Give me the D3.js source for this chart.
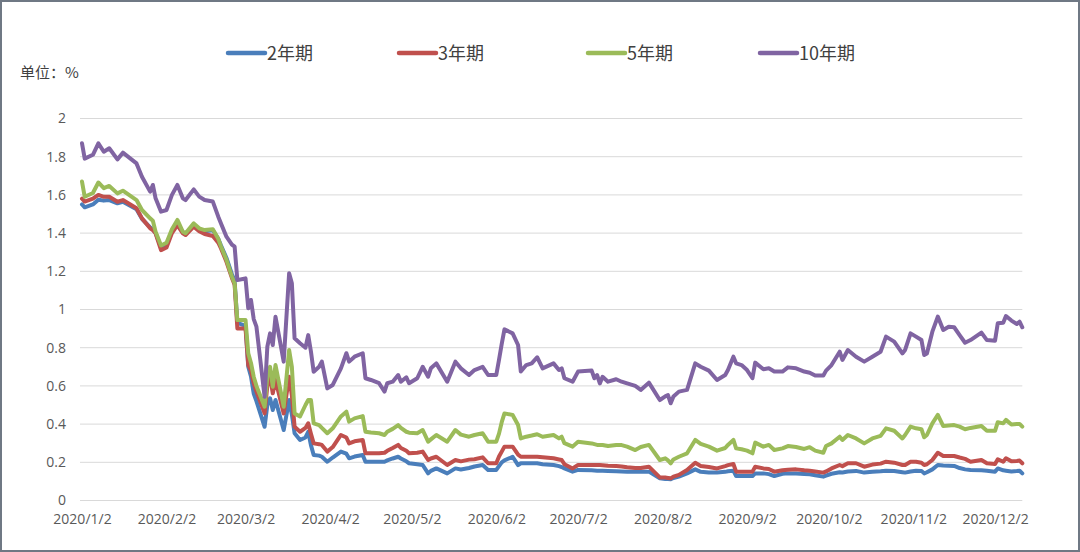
<!doctype html>
<html>
<head>
<meta charset="utf-8">
<title>国债收益率</title>
<script src="https://d3js.org/d3.v7.min.js"></script>
<style>
  body { margin: 0; background: #fff; }
  svg { display: block; }
</style>
</head>
<body>
<svg></svg>
<script>
// dates of the readings
var dates = [
  '2020-01-02','2020-01-03','2020-01-06','2020-01-08','2020-01-10','2020-01-12','2020-01-15','2020-01-17','2020-01-22','2020-01-24','2020-01-27','2020-01-28','2020-01-29','2020-01-31',
  '2020-02-02','2020-02-04','2020-02-06','2020-02-08','2020-02-09','2020-02-12','2020-02-14','2020-02-16','2020-02-19','2020-02-21','2020-02-22','2020-02-24','2020-02-26','2020-02-27','2020-02-28',
  '2020-03-01','2020-03-02','2020-03-03','2020-03-04','2020-03-05','2020-03-06','2020-03-09','2020-03-10','2020-03-11','2020-03-12','2020-03-13','2020-03-16','2020-03-18','2020-03-19','2020-03-20','2020-03-22','2020-03-24','2020-03-25','2020-03-26','2020-03-27','2020-03-29','2020-03-30',
  '2020-04-01','2020-04-03','2020-04-06','2020-04-08','2020-04-09','2020-04-11','2020-04-14','2020-04-15','2020-04-17','2020-04-20','2020-04-22','2020-04-23','2020-04-25','2020-04-27','2020-04-28','2020-04-30',
  '2020-05-01','2020-05-04','2020-05-06','2020-05-08','2020-05-09','2020-05-11','2020-05-15','2020-05-18','2020-05-20','2020-05-23','2020-05-25','2020-05-28','2020-05-30',
  '2020-06-02','2020-06-03','2020-06-04','2020-06-05','2020-06-08','2020-06-10','2020-06-11','2020-06-13','2020-06-15','2020-06-17','2020-06-19','2020-06-23','2020-06-25','2020-06-26','2020-06-27','2020-06-30',
  '2020-07-02','2020-07-07','2020-07-08','2020-07-09','2020-07-10','2020-07-11','2020-07-13','2020-07-16','2020-07-18','2020-07-20','2020-07-23','2020-07-25','2020-07-28',
  '2020-08-01','2020-08-03','2020-08-04','2020-08-05','2020-08-06','2020-08-08','2020-08-11','2020-08-14','2020-08-16','2020-08-19','2020-08-22','2020-08-25','2020-08-26','2020-08-28','2020-08-29','2020-08-31',
  '2020-09-02','2020-09-04','2020-09-05','2020-09-08','2020-09-10','2020-09-12','2020-09-15','2020-09-17','2020-09-20','2020-09-23','2020-09-25','2020-09-27','2020-09-30',
  '2020-10-01','2020-10-03','2020-10-06','2020-10-07','2020-10-09','2020-10-12','2020-10-15','2020-10-18','2020-10-21','2020-10-23','2020-10-26','2020-10-29','2020-10-30',
  '2020-11-01','2020-11-03','2020-11-05','2020-11-06','2020-11-07','2020-11-09','2020-11-11','2020-11-13','2020-11-15','2020-11-17','2020-11-19','2020-11-21','2020-11-23','2020-11-27','2020-11-29',
  '2020-12-02','2020-12-03','2020-12-05','2020-12-06','2020-12-08','2020-12-10','2020-12-11','2020-12-12'
];

var y2 = [
  1.55,1.535,1.55,1.575,1.57,1.573,1.556,1.564,1.525,1.475,1.43,1.42,1.40,1.325,
  1.335,1.41,1.45,1.405,1.395,1.442,1.42,1.41,1.415,1.37,1.335,1.27,1.185,1.15,0.93,
  0.92,0.915,0.70,0.65,0.56,0.52,0.386,0.50,0.535,0.474,0.526,0.369,0.526,0.45,0.352,0.317,0.33,0.36,0.29,0.238,0.235,0.229,
  0.203,0.225,0.256,0.245,0.221,0.23,0.238,0.203,0.203,0.203,0.203,0.21,0.22,0.229,0.22,0.205,
  0.195,0.19,0.186,0.142,0.155,0.168,0.142,0.168,0.162,0.17,0.178,0.186,0.16,
  0.16,0.18,0.20,0.21,0.229,0.185,0.195,0.195,0.195,0.195,0.19,0.186,0.18,0.175,0.168,0.151,
  0.16,0.158,0.157,0.156,0.156,0.156,0.155,0.153,0.152,0.151,0.151,0.151,0.151,
  0.116,0.113,0.112,0.111,0.118,0.125,0.142,0.163,0.15,0.146,0.146,0.15,0.153,0.156,0.128,0.128,
  0.128,0.128,0.142,0.142,0.138,0.128,0.14,0.142,0.141,0.139,0.137,0.132,0.125,
  0.13,0.14,0.148,0.147,0.152,0.155,0.146,0.15,0.153,0.156,0.154,0.148,0.146,
  0.152,0.156,0.155,0.142,0.148,0.163,0.186,0.183,0.182,0.181,0.17,0.163,0.16,0.158,0.156,
  0.151,0.168,0.158,0.156,0.152,0.154,0.156,0.142
];

var y3 = [
  1.58,1.565,1.58,1.60,1.59,1.59,1.564,1.573,1.53,1.477,1.425,1.415,1.399,1.311,
  1.325,1.40,1.442,1.399,1.39,1.434,1.41,1.395,1.385,1.35,1.32,1.25,1.165,1.13,0.901,
  0.90,0.90,0.709,0.68,0.614,0.57,0.456,0.60,0.648,0.561,0.631,0.456,0.648,0.55,0.386,0.36,0.38,0.404,0.35,0.299,0.295,0.291,
  0.256,0.28,0.343,0.33,0.299,0.31,0.317,0.247,0.247,0.247,0.25,0.26,0.275,0.291,0.275,0.26,
  0.247,0.25,0.256,0.212,0.22,0.229,0.186,0.212,0.205,0.214,0.216,0.226,0.195,
  0.195,0.23,0.256,0.282,0.282,0.24,0.229,0.229,0.229,0.229,0.226,0.221,0.215,0.212,0.19,0.168,
  0.186,0.186,0.186,0.186,0.186,0.185,0.182,0.18,0.178,0.174,0.17,0.17,0.177,
  0.121,0.12,0.118,0.116,0.125,0.134,0.16,0.198,0.181,0.175,0.168,0.18,0.185,0.191,0.151,0.151,
  0.151,0.151,0.177,0.168,0.165,0.151,0.158,0.161,0.163,0.158,0.156,0.152,0.146,
  0.152,0.168,0.186,0.18,0.195,0.195,0.177,0.188,0.193,0.203,0.198,0.186,0.186,
  0.203,0.203,0.198,0.186,0.19,0.212,0.25,0.233,0.233,0.233,0.225,0.218,0.203,0.212,0.195,
  0.191,0.216,0.203,0.221,0.205,0.207,0.209,0.195
];

var y5 = [
  1.67,1.59,1.61,1.665,1.635,1.647,1.608,1.622,1.573,1.521,1.477,1.465,1.407,1.335,
  1.35,1.42,1.469,1.407,1.399,1.451,1.425,1.416,1.42,1.37,1.33,1.26,1.172,1.137,0.945,
  0.945,0.945,0.771,0.72,0.648,0.60,0.491,0.65,0.70,0.596,0.709,0.491,0.788,0.70,0.456,0.44,0.50,0.526,0.526,0.404,0.395,0.38,
  0.352,0.378,0.44,0.465,0.413,0.43,0.442,0.36,0.356,0.352,0.343,0.36,0.375,0.395,0.38,0.36,
  0.355,0.352,0.369,0.308,0.32,0.343,0.308,0.369,0.345,0.334,0.343,0.352,0.308,
  0.308,0.35,0.41,0.456,0.448,0.395,0.325,0.334,0.34,0.347,0.334,0.343,0.325,0.334,0.30,0.282,
  0.308,0.299,0.295,0.291,0.291,0.291,0.285,0.29,0.29,0.282,0.264,0.28,0.291,
  0.212,0.221,0.21,0.195,0.215,0.229,0.247,0.317,0.296,0.282,0.261,0.275,0.291,0.317,0.273,0.268,
  0.261,0.247,0.303,0.282,0.291,0.264,0.273,0.285,0.28,0.27,0.279,0.261,0.25,
  0.285,0.299,0.334,0.317,0.343,0.325,0.299,0.325,0.338,0.378,0.365,0.325,0.343,
  0.387,0.378,0.373,0.331,0.343,0.404,0.448,0.39,0.393,0.395,0.387,0.373,0.38,0.39,0.365,
  0.365,0.41,0.404,0.422,0.398,0.40,0.401,0.387
];

var y10 = [
  1.87,1.79,1.81,1.87,1.826,1.844,1.786,1.821,1.765,1.695,1.617,1.652,1.582,1.512,
  1.521,1.60,1.652,1.582,1.573,1.629,1.591,1.573,1.565,1.486,1.45,1.381,1.34,1.329,1.154,
  1.16,1.163,1.006,1.05,0.95,0.91,0.543,0.805,0.875,0.814,0.962,0.727,1.19,1.137,0.849,0.823,0.80,0.866,0.78,0.674,0.70,0.727,
  0.587,0.605,0.692,0.771,0.727,0.753,0.771,0.64,0.631,0.614,0.57,0.614,0.622,0.657,0.622,0.645,
  0.614,0.64,0.70,0.648,0.692,0.718,0.622,0.727,0.692,0.657,0.683,0.70,0.657,
  0.657,0.736,0.82,0.896,0.875,0.814,0.675,0.709,0.718,0.75,0.692,0.718,0.683,0.692,0.64,0.622,
  0.675,0.68,0.64,0.657,0.613,0.648,0.622,0.635,0.622,0.613,0.60,0.579,0.617,
  0.526,0.545,0.552,0.509,0.544,0.57,0.579,0.718,0.70,0.68,0.631,0.657,0.683,0.753,0.718,0.709,
  0.683,0.64,0.722,0.687,0.692,0.675,0.675,0.697,0.692,0.675,0.669,0.654,0.654,
  0.68,0.709,0.779,0.736,0.788,0.753,0.727,0.753,0.779,0.858,0.832,0.77,0.788,
  0.875,0.858,0.84,0.762,0.77,0.884,0.963,0.893,0.91,0.907,0.866,0.826,0.84,0.879,0.84,
  0.837,0.928,0.931,0.966,0.942,0.924,0.936,0.907
];

var seriesNames = ['2年期', '3年期', '5年期', '10年期'];
var seriesColors = ['#4a7ebb', '#c0504d', '#9bbb59', '#8064a2'];
var xTickLabels = ['2020/1/2','2020/2/2','2020/3/2','2020/4/2','2020/5/2','2020/6/2',
                   '2020/7/2','2020/8/2','2020/9/2','2020/10/2','2020/11/2','2020/12/2'];
var yTicks = [0, 0.2, 0.4, 0.6, 0.8, 1, 1.2, 1.4, 1.6, 1.8, 2];

var svgWidth = 1080, svgHeight = 552;
var plotLeft = 82, plotRight = 1022.3, plotTop = 118.5, plotBottom = 500.5;

var svg = d3.select('svg')
    .attr('width', svgWidth)
    .attr('height', svgHeight);

// outer frame
svg.append('rect')
    .attr('x', 1).attr('y', 1)
    .attr('width', svgWidth - 2).attr('height', svgHeight - 2)
    .attr('fill', '#fff')
    .attr('stroke', '#6f7884')
    .attr('stroke-width', 2);

var parse = d3.timeParse('%Y-%m-%d');
var parseTick = d3.timeParse('%Y/%m/%d');
var xDates = dates.map(parse);

var xScale = d3.scaleTime()
    .domain([xDates[0], xDates[xDates.length - 1]])
    .range([plotLeft, plotRight]);

var yScale = d3.scaleLinear()
    .domain([0, 2])
    .range([plotBottom, plotTop]);

// gridlines
svg.append('g')
    .selectAll('line')
    .data(yTicks)
    .enter()
    .append('line')
    .attr('x1', plotLeft - 2)
    .attr('x2', plotRight)
    .attr('y1', function (d) { return yScale(d); })
    .attr('y2', function (d) { return yScale(d); })
    .attr('stroke', '#d9d9d9')
    .attr('stroke-width', 1);

// y axis labels
var yAxis = d3.axisLeft(yScale)
    .tickValues(yTicks)
    .tickSize(0)
    .tickPadding(0)
    .tickFormat(function (d) { return String(d); });

var gy = svg.append('g')
    .attr('transform', 'translate(66,0)')
    .call(yAxis);
gy.select('.domain').remove();
gy.selectAll('text')
    .attr('fill', '#595959')
    .style('font-family', '"Open Sans", "Noto Sans", sans-serif')
    .style('font-size', '14px');

// x axis labels
var xAxis = d3.axisBottom(xScale)
    .tickValues(xTickLabels.map(parseTick))
    .tickSize(0)
    .tickPadding(0)
    .tickFormat(function (d, i) { return xTickLabels[i]; });

var gx = svg.append('g')
    .attr('transform', 'translate(0,514)')
    .call(xAxis);
gx.select('.domain').remove();
gx.selectAll('text')
    .attr('fill', '#595959')
    .style('font-family', '"Open Sans", "Noto Sans", sans-serif')
    .style('font-size', '14px');

// lines
var allSeries = [y2, y3, y5, y10];
var line = d3.line()
    .x(function (d, i) { return xScale(xDates[i]); })
    .y(function (d) { return yScale(d); });

svg.append('g')
    .selectAll('path')
    .data(allSeries)
    .enter()
    .append('path')
    .attr('d', line)
    .attr('fill', 'none')
    .attr('stroke', function (d, i) { return seriesColors[i]; })
    .attr('stroke-width', 4)
    .attr('stroke-linejoin', 'round')
    .attr('stroke-linecap', 'round');

// unit label
svg.append('text')
    .attr('x', 20)
    .attr('y', 78)
    .attr('fill', '#404040')
    .style('font-family', '"Noto Sans CJK SC", sans-serif')
    .style('font-size', '15px')
    .text('单位：%');

// legend
var legendX = [228, 399, 588, 760];
var legend = svg.append('g')
    .selectAll('g')
    .data(seriesNames)
    .enter()
    .append('g')
    .attr('transform', function (d, i) { return 'translate(' + legendX[i] + ',53)'; });

legend.append('line')
    .attr('x1', 0).attr('x2', 37)
    .attr('y1', 0).attr('y2', 0)
    .attr('stroke', function (d, i) { return seriesColors[i]; })
    .attr('stroke-width', 4.5)
    .attr('stroke-linecap', 'round');

legend.append('text')
    .attr('x', 39)
    .attr('y', 6.5)
    .attr('fill', '#404040')
    .style('font-family', '"Noto Sans CJK SC", sans-serif')
    .style('font-size', '18px')
    .text(function (d) { return d; });
</script>
</body>
</html>
